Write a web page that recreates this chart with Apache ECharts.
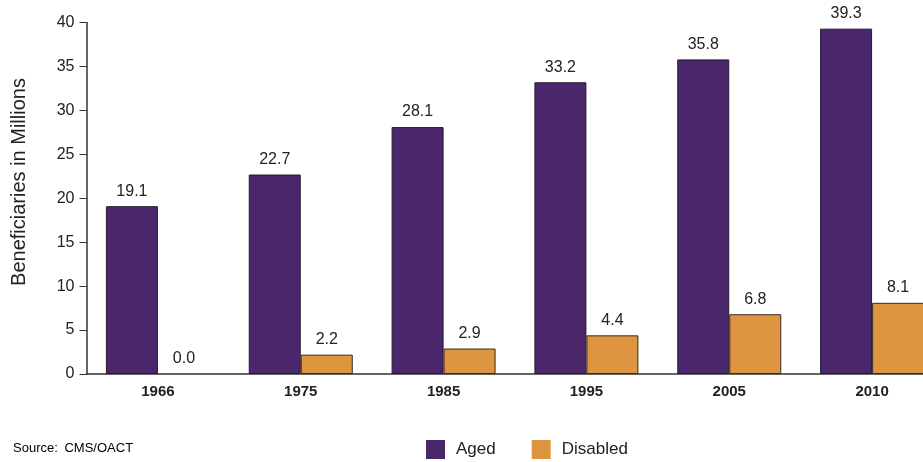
<!DOCTYPE html>
<html>
<head>
<meta charset="utf-8">
<script src="https://cdn.jsdelivr.net/npm/echarts@6/dist/echarts.min.js"></script>
<style>
  html, body { margin: 0; padding: 0; background: #fff; }
  #chart { width: 923px; height: 462px; }
</style>
</head>
<body>
<div id="chart"></div>
<script>
// Medicare beneficiaries by year, in millions
const years = ['1966', '1975', '1985', '1995', '2005', '2010'];
const aged = [19.1, 22.7, 28.1, 33.2, 35.8, 39.3];
const disabled = [0.0, 2.2, 2.9, 4.4, 6.8, 8.1];
const yTicks = { min: 0, max: 40, interval: 5 };

const FONT = '"Liberation Sans", Arial, Helvetica, sans-serif';
const NARROW = '"Liberation Sans Narrow", "Liberation Sans", sans-serif';
const PURPLE = '#4a276a';
const ORANGE = '#dd963f';

const chart = echarts.init(document.getElementById('chart'), null, { renderer: 'canvas' });

const valueLabel = {
  show: true,
  position: 'top',
  distance: 7,
  color: '#222',
  fontFamily: FONT,
  fontSize: 16,
  formatter: p => p.value.toFixed(1)
};

// zero-height bars get no outline so nothing is drawn on the baseline
const toItems = (vals, border) => vals.map(v => ({
  value: v,
  itemStyle: { borderColor: border, borderWidth: v > 0 ? 1 : 0 }
}));

chart.setOption({
  animation: false,
  backgroundColor: '#fff',
  grid: {
    left: 86.5, top: 22.5, width: 857, bottom: 88,
    containLabel: false,
    outerBoundsMode: 'none'
  },
  legend: {
    top: 440,
    left: 426,
    padding: 0,
    itemWidth: 19,
    itemHeight: 19,
    itemGap: 36,
    icon: 'rect',
    itemStyle: { borderWidth: 0 },
    textStyle: { fontFamily: FONT, fontSize: 17, color: '#222', padding: [0, 0, 0, 6] },
    data: ['Aged', 'Disabled']
  },
  graphic: [
    {
      type: 'text',
      left: 13,
      top: 442,
      style: {
        rich: {
          a: { fontFamily: NARROW, fontSize: 13, color: '#666' },
          b: { fontFamily: NARROW, fontSize: 13, color: '#222' }
        },
        text: '{a|Source:}  {b|CMS/OACT}'
      }
    },
    {
      type: 'text',
      x: 19,
      y: 182,
      rotation: Math.PI / 2,
      style: {
        text: 'Beneficiaries in Millions',
        fontFamily: FONT,
        fontSize: 20,
        fill: '#222',
        align: 'center',
        verticalAlign: 'middle'
      }
    }
  ],
  xAxis: {
    type: 'category',
    data: years,
    axisLine: { show: true, lineStyle: { color: '#333', width: 1.5 } },
    axisTick: { show: false },
    axisLabel: { color: '#222', fontFamily: FONT, fontSize: 15, fontWeight: 'bold', margin: 10 }
  },
  yAxis: {
    type: 'value',
    min: yTicks.min,
    max: yTicks.max,
    interval: yTicks.interval,
    splitLine: { show: false },
    axisLine: { show: true, lineStyle: { color: '#333', width: 1.5 } },
    axisTick: { show: true, length: 7, lineStyle: { color: '#333' } },
    axisLabel: { color: '#222', fontFamily: FONT, fontSize: 16, margin: 12 }
  },
  series: [
    {
      name: 'Aged',
      type: 'bar',
      data: toItems(aged, '#2a1a35'),
      barWidth: 52,
      barGap: '0%',
      itemStyle: { color: PURPLE },
      label: valueLabel
    },
    {
      name: 'Disabled',
      type: 'bar',
      data: toItems(disabled, '#3a2a20'),
      barWidth: 52,
      itemStyle: { color: ORANGE },
      label: valueLabel
    }
  ]
});
</script>
</body>
</html>
